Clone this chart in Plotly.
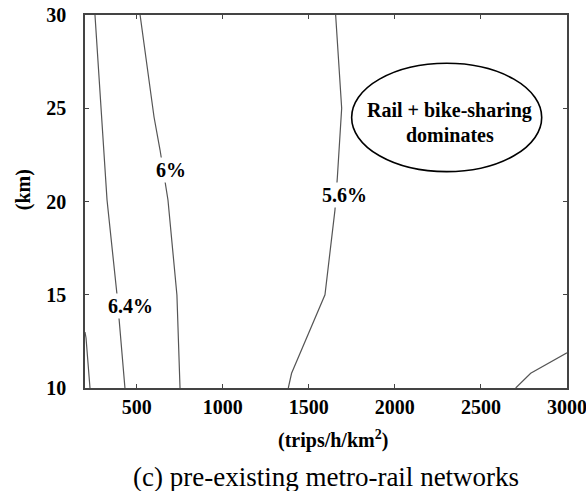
import plotly.graph_objects as go

# Contour lines (x: trips/h/km^2, y: km)
c64_x = [258, 328, 386, 432]
c64_y = [30, 20.08, 15.0, 10]
c6_x = [520, 601, 636, 682, 734, 752]
c6_y = [30, 24.53, 22.76, 20.08, 14.99, 10]
c56_x = [1656, 1691, 1666, 1652, 1594, 1400, 1381]
c56_y = [30, 25, 21.3, 19.54, 15, 10.79, 10]
c52_x = [2702, 2789, 3000]
c52_y = [10, 10.79, 11.89]
c68_x = [200, 206, 229]
c68_y = [13.0, 12.68, 10]

label_text = ["6%", "5.6%", "6.4%"]
label_x = [700, 1705, 467]
label_y = [21.69, 20.35, 14.4]

x_ticks = [500, 1000, 1500, 2000, 2500, 3000]
y_ticks = [10, 15, 20, 25, 30]

FONT = "Liberation Serif"

fig = go.Figure()
for xs, ys in [(c64_x, c64_y), (c6_x, c6_y), (c56_x, c56_y), (c52_x, c52_y), (c68_x, c68_y)]:
    fig.add_trace(go.Scatter(x=xs, y=ys, mode="lines",
                             line=dict(color="#555555", width=1.2),
                             hoverinfo="skip", showlegend=False))

annotations = []
for t, x, y in zip(label_text, label_x, label_y):
    annotations.append(dict(x=x, y=y, xref="x", yref="y", text="<b>%s</b>" % t,
                            showarrow=False, bgcolor="white", borderpad=1,
                            xanchor="center", yanchor="middle",
                            font=dict(family=FONT, size=20, color="black")))

annotations += [
    dict(x=2320, y=24.9, xref="x", yref="y", text="<b>Rail + bike-sharing</b>",
         showarrow=False, xanchor="center", yanchor="middle",
         font=dict(family=FONT, size=20, color="black")),
    dict(x=2320, y=23.55, xref="x", yref="y", text="<b>dominates</b>",
         showarrow=False, xanchor="center", yanchor="middle",
         font=dict(family=FONT, size=20, color="black")),
    dict(x=0.515, y=-0.1394, xref="paper", yref="paper", text="<b>(trips/h/km<sup>2</sup>)</b>",
         showarrow=False, xanchor="center", yanchor="middle",
         font=dict(family=FONT, size=20, color="black")),
    dict(x=0.50, y=-0.2386, xref="paper", yref="paper", text="(c) pre-existing metro-rail networks",
         showarrow=False, xanchor="center", yanchor="middle",
         font=dict(family=FONT, size=27, color="black")),
    dict(x=-0.126, y=0.531, xref="paper", yref="paper", text="<b>(km)</b>", textangle=-90,
         showarrow=False, xanchor="center", yanchor="middle",
         font=dict(family=FONT, size=20, color="black")),
]

fig.add_shape(type="circle", xref="x", yref="y", x0=1749, x1=2853, y0=21.6, y1=27.41,
              line=dict(color="black", width=1.6))

axis_common = dict(ticks="inside", ticklen=4, tickcolor="#444", showgrid=False,
                   zeroline=False, showline=True, linecolor="#444", linewidth=1.5,
                   mirror="ticks", automargin=False, ticklabeloverflow="allow",
                   tickfont=dict(family=FONT, size=20, color="black", weight="bold"))

fig.update_layout(
    width=586, height=491,
    margin=dict(l=85, r=19, t=15, b=103, autoexpand=False),
    paper_bgcolor="white", plot_bgcolor="white",
    annotations=annotations,
    xaxis=dict(range=[200, 3000], tickvals=x_ticks, ticktext=[str(v) for v in x_ticks],
               ticklabelstandoff=0, **axis_common),
    yaxis=dict(range=[10, 30], tickvals=y_ticks, ticktext=[str(v) for v in y_ticks],
               ticklabelstandoff=13, **axis_common),
)

fig.write_html("out.html", config={"displayModeBar": False},
               post_script="document.body.style.margin='0';document.body.style.padding='0';document.body.style.overflow='hidden';")
